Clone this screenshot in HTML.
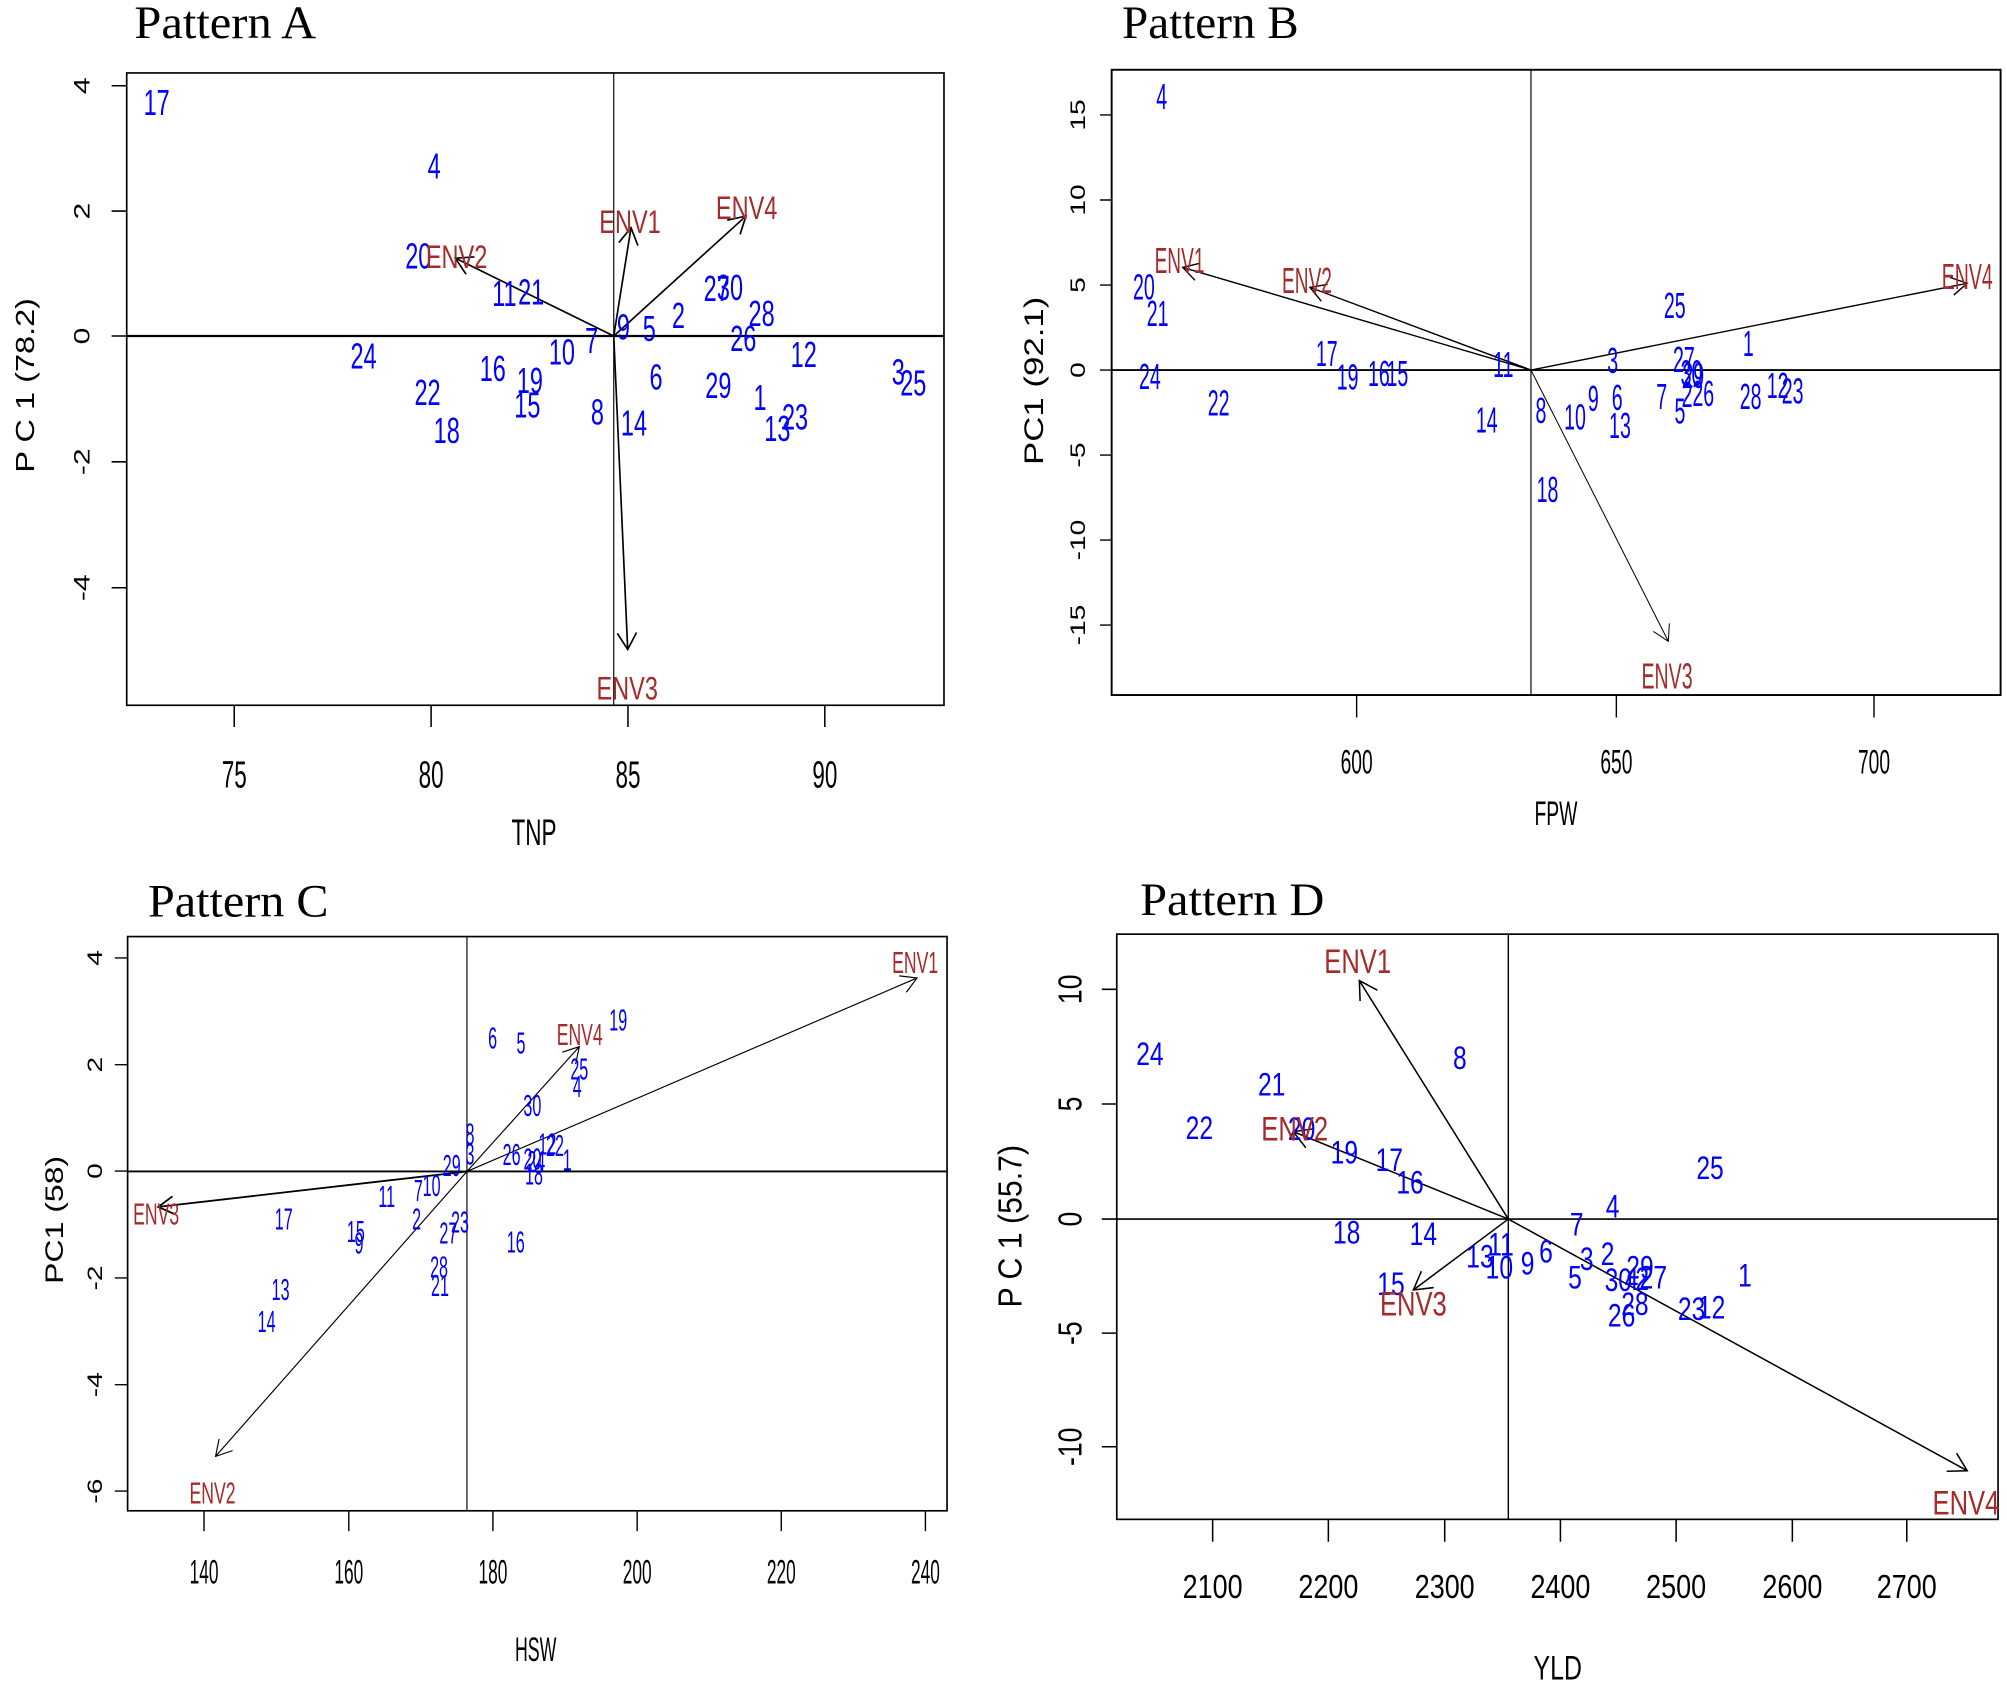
<!DOCTYPE html>
<html><head><meta charset="utf-8"><style>
html,body{margin:0;padding:0;background:#fff;}
svg{display:block;}
text{font-family:"Liberation Sans",Arial,sans-serif;text-anchor:middle;}
.t{font-family:"Liberation Serif","Times New Roman",serif;text-anchor:start;font-size:36px;fill:#000;}
.b{fill:#0000ff;}
.r{fill:#a52a2a;}
.k{fill:#000;}
.ln{fill:none;stroke:#000;}
</style></head><body>
<svg width="2007" height="1688" viewBox="0 0 1568 1318.75" preserveAspectRatio="none" xmlns="http://www.w3.org/2000/svg">
<rect x="0" y="0" width="1568" height="1318.75" fill="#fff"/>

<!-- ================= PANEL A ================= -->
<text class="t" x="105" y="29.7" textLength="142" lengthAdjust="spacingAndGlyphs">Pattern A</text>
<rect x="99" y="57" width="638.5" height="494" class="ln" stroke-width="1.3"/>
<line x1="99" y1="262.5" x2="737.5" y2="262.5" class="ln" stroke-width="1.7"/>
<line x1="479.5" y1="57" x2="479.5" y2="551" class="ln" stroke-width="0.9"/>
<path class="ln" stroke-width="1.2" d="M183 551V568M336.8 551V568M490.6 551V568M644.4 551V568M87.2 66.96H99M87.2 164.9H99M87.2 262.5H99M87.2 360.8H99M87.2 459.2H99"/>
<g class="k" font-size="30">
<text transform="translate(183,615.1) scale(.585,1)">75</text>
<text transform="translate(336.8,615.1) scale(.585,1)">80</text>
<text transform="translate(490.6,615.1) scale(.585,1)">85</text>
<text transform="translate(644.4,615.1) scale(.585,1)">90</text>
</g>
<text class="k" font-size="29" transform="translate(417.2,660) scale(.607,1)">TNP</text>
<g class="k" font-size="23.5">
<text transform="translate(63.8,66.96) rotate(-90) scale(1,.74)" y="8.4">4</text>
<text transform="translate(63.8,164.9) rotate(-90) scale(1,.74)" y="8.4">2</text>
<text transform="translate(63.8,262.5) rotate(-90) scale(1,.74)" y="8.4">0</text>
<text transform="translate(63.8,360.8) rotate(-90) scale(1,.74)" y="8.4">-2</text>
<text transform="translate(63.8,459.2) rotate(-90) scale(1,.74)" y="8.4">-4</text>
</g>
<text class="k" font-size="25.4" transform="translate(19.5,301) rotate(-90) scale(1,.79)" y="9.1">P C 1 (78.2)</text>
<path class="ln" stroke-width="1.3" d="M479.5 262.5L493 177.9M483.5 189.5L493 177.9L498.4 191.9M479.5 262.5L582.8 168.8M568.1 172L582.8 168.8L578.2 183.1M479.5 262.5L355.7 201.7M364.1 214.2L355.7 201.7L370.7 200.7M479.5 262.5L490.4 507.4M497.3 494.1L490.4 507.4L482.3 494.8"/>
<g class="b" font-size="28">
<text transform="translate(122.4,90) scale(.655,1)">17</text>
<text transform="translate(339.2,139.5) scale(.655,1)">4</text>
<text transform="translate(326.8,209.6) scale(.655,1)">20</text>
<text transform="translate(394,239) scale(.655,1)">11</text>
<text transform="translate(415,238) scale(.655,1)">21</text>
<text transform="translate(487,265.2) scale(.655,1)">9</text>
<text transform="translate(507.3,266.5) scale(.655,1)">5</text>
<text transform="translate(530,256.1) scale(.655,1)">2</text>
<text transform="translate(559.9,235.3) scale(.655,1)">27</text>
<text transform="translate(570.3,234.5) scale(.655,1)">30</text>
<text transform="translate(595,254.8) scale(.655,1)">28</text>
<text transform="translate(580.7,274.3) scale(.655,1)">26</text>
<text transform="translate(627.9,286.8) scale(.655,1)">12</text>
<text transform="translate(701.8,300.4) scale(.655,1)">3</text>
<text transform="translate(713.5,309) scale(.655,1)">25</text>
<text transform="translate(284,288) scale(.655,1)">24</text>
<text transform="translate(385,297.5) scale(.655,1)">16</text>
<text transform="translate(414,307) scale(.655,1)">19</text>
<text transform="translate(412,326) scale(.655,1)">15</text>
<text transform="translate(439,284.7) scale(.655,1)">10</text>
<text transform="translate(462.2,275.6) scale(.655,1)">7</text>
<text transform="translate(334,316.6) scale(.655,1)">22</text>
<text transform="translate(349,346) scale(.655,1)">18</text>
<text transform="translate(466.7,331.6) scale(.655,1)">8</text>
<text transform="translate(495.3,340.2) scale(.655,1)">14</text>
<text transform="translate(512.5,304.3) scale(.655,1)">6</text>
<text transform="translate(561.2,310.8) scale(.655,1)">29</text>
<text transform="translate(593.75,320.4) scale(.655,1)">1</text>
<text transform="translate(607.3,344.6) scale(.655,1)">13</text>
<text transform="translate(621.1,335.5) scale(.655,1)">23</text>
</g>
<g class="r" font-size="25">
<text transform="translate(492.2,182.2) scale(.735,1)">ENV1</text>
<text transform="translate(583.3,171) scale(.735,1)">ENV4</text>
<text transform="translate(356.7,209.4) scale(.735,1)">ENV2</text>
<text transform="translate(490,546.5) scale(.735,1)">ENV3</text>
</g>

<!-- ================= PANEL B ================= -->
<text class="t" x="876.6" y="29.7" textLength="138" lengthAdjust="spacingAndGlyphs">Pattern B</text>
<rect x="868.5" y="54.5" width="694.5" height="488.5" class="ln" stroke-width="1.5"/>
<line x1="868.5" y1="289.1" x2="1563" y2="289.1" class="ln" stroke-width="1.5"/>
<line x1="1196.1" y1="54.5" x2="1196.1" y2="543" class="ln" stroke-width="0.9"/>
<path class="ln" stroke-width="1.1" d="M1059.9 543V560.5M1262.8 543V560.5M1464.1 543V560.5M859.4 89.8H868.5M859.4 156.25H868.5M859.4 222.7H868.5M859.4 289.1H868.5M859.4 355.5H868.5M859.4 421.9H868.5M859.4 488.3H868.5"/>
<g class="k" font-size="27">
<text transform="translate(1059.9,604.2) scale(.556,1)">600</text>
<text transform="translate(1262.8,604.2) scale(.556,1)">650</text>
<text transform="translate(1464.1,604.2) scale(.556,1)">700</text>
</g>
<text class="k" font-size="27" transform="translate(1215.6,644.5) scale(.56,1)">FPW</text>
<g class="k" font-size="22">
<text transform="translate(841.7,89.8) rotate(-90) scale(1,.74)" y="7.9">15</text>
<text transform="translate(841.7,156.25) rotate(-90) scale(1,.74)" y="7.9">10</text>
<text transform="translate(841.7,222.7) rotate(-90) scale(1,.74)" y="7.9">5</text>
<text transform="translate(841.7,289.1) rotate(-90) scale(1,.74)" y="7.9">0</text>
<text transform="translate(841.7,355.5) rotate(-90) scale(1,.74)" y="7.9">-5</text>
<text transform="translate(841.7,421.9) rotate(-90) scale(1,.74)" y="7.9">-10</text>
<text transform="translate(841.7,488.3) rotate(-90) scale(1,.74)" y="7.9">-15</text>
</g>
<text class="k" font-size="27.2" transform="translate(807.3,297.5) rotate(-90) scale(1,.77)" y="9.7">PC1 (92.1)</text>
<path class="ln" stroke-width="1.1" d="M1196.1 289.1L924 208.9M933.6 219L924 208.9L937.6 205.6M1196.1 289.1L1023.4 224.5M1032.3 235.3L1023.4 224.5L1037.2 222.2M1196.1 289.1L1536.9 221.3M1523.6 216.8L1536.9 221.3L1526.4 230.5"/>
<path class="ln" stroke-width="0.8" d="M1196.1 289.1L1303.4 501M1304.2 487L1303.4 501L1291.7 493.3"/>
<g class="b" font-size="28">
<text transform="translate(907.6,85) scale(.546,1)">4</text>
<text transform="translate(893.7,234) scale(.546,1)">20</text>
<text transform="translate(904.4,254.8) scale(.546,1)">21</text>
<text transform="translate(898.4,303.75) scale(.546,1)">24</text>
<text transform="translate(952.1,324.6) scale(.546,1)">22</text>
<text transform="translate(1036.5,286) scale(.546,1)">17</text>
<text transform="translate(1052.9,304.3) scale(.546,1)">19</text>
<text transform="translate(1077.3,301.7) scale(.546,1)">16</text>
<text transform="translate(1091.7,301.7) scale(.546,1)">15</text>
<text transform="translate(1174.5,294.6) scale(.546,1)">11</text>
<text transform="translate(1161.5,338) scale(.546,1)">14</text>
<text transform="translate(1203.9,330.3) scale(.546,1)">8</text>
<text transform="translate(1230.5,335.5) scale(.546,1)">10</text>
<text transform="translate(1244.8,321.2) scale(.546,1)">9</text>
<text transform="translate(1263.5,320.4) scale(.546,1)">6</text>
<text transform="translate(1265.6,342) scale(.546,1)">13</text>
<text transform="translate(1259.9,291.25) scale(.546,1)">3</text>
<text transform="translate(1298.2,319.4) scale(.546,1)">7</text>
<text transform="translate(1312.5,330.8) scale(.546,1)">5</text>
<text transform="translate(1315.6,290.7) scale(.546,1)">27</text>
<text transform="translate(1322.9,303) scale(.546,1)">29</text>
<text transform="translate(1321.5,301) scale(.546,1)">30</text>
<text transform="translate(1318,318) scale(.546,1)">2</text>
<text transform="translate(1330.7,317.3) scale(.546,1)">26</text>
<text transform="translate(1365.9,278.2) scale(.546,1)">1</text>
<text transform="translate(1367.7,319.4) scale(.546,1)">28</text>
<text transform="translate(1388.8,310.8) scale(.546,1)">12</text>
<text transform="translate(1400.5,315.2) scale(.546,1)">23</text>
<text transform="translate(1308.4,248.6) scale(.546,1)">25</text>
<text transform="translate(1209,392) scale(.546,1)">18</text>
</g>
<g class="r" font-size="28">
<text transform="translate(921.5,213.1) scale(.533,1)">ENV1</text>
<text transform="translate(1021.1,228.75) scale(.533,1)">ENV2</text>
<text transform="translate(1536.9,225.7) scale(.545,1)">ENV4</text>
<text transform="translate(1302.4,537.8) scale(.545,1)">ENV3</text>
</g>

<!-- ================= PANEL C ================= -->
<text class="t" x="115.6" y="716" textLength="141" lengthAdjust="spacingAndGlyphs">Pattern C</text>
<rect x="99.7" y="731.7" width="640.2" height="448.6" class="ln" stroke-width="1.3"/>
<line x1="99.7" y1="915.2" x2="739.9" y2="915.2" class="ln" stroke-width="1.5"/>
<line x1="364.8" y1="731.7" x2="364.8" y2="1180.3" class="ln" stroke-width="0.9"/>
<path class="ln" stroke-width="1.1" d="M159.4 1180.3V1196.2M272.5 1180.3V1196.2M385.1 1180.3V1196.2M497.8 1180.3V1196.2M610.4 1180.3V1196.2M723 1180.3V1196.2M89.7 748.4H99.7M89.7 831.8H99.7M89.7 914.9H99.7M89.7 998.4H99.7M89.7 1081.8H99.7M89.7 1164.9H99.7"/>
<g class="k" font-size="27">
<text transform="translate(159.4,1237.2) scale(.5,1)">140</text>
<text transform="translate(272.5,1237.2) scale(.5,1)">160</text>
<text transform="translate(385.1,1237.2) scale(.5,1)">180</text>
<text transform="translate(497.8,1237.2) scale(.5,1)">200</text>
<text transform="translate(610.4,1237.2) scale(.5,1)">220</text>
<text transform="translate(723,1237.2) scale(.5,1)">240</text>
</g>
<text class="k" font-size="27" transform="translate(418.5,1297.7) scale(.514,1)">HSW</text>
<g class="k" font-size="22">
<text transform="translate(73.7,748.4) rotate(-90) scale(1,.74)" y="7.9">4</text>
<text transform="translate(73.7,831.8) rotate(-90) scale(1,.74)" y="7.9">2</text>
<text transform="translate(73.7,914.9) rotate(-90) scale(1,.74)" y="7.9">0</text>
<text transform="translate(73.7,998.4) rotate(-90) scale(1,.74)" y="7.9">-2</text>
<text transform="translate(73.7,1081.8) rotate(-90) scale(1,.74)" y="7.9">-4</text>
<text transform="translate(73.7,1164.9) rotate(-90) scale(1,.74)" y="7.9">-6</text>
</g>
<text class="k" font-size="25" transform="translate(42.4,953) rotate(-90) scale(1,.77)" y="9">PC1 (58)</text>
<path class="ln" stroke-width="0.9" d="M364.8 915.2L716.5 764M702.6 762.4L716.5 764L708.1 775.2M364.8 915.2L452.6 817.7M439.3 822L452.6 817.7L449.7 831.4M364.8 915.2L168.4 1137.8M181.7 1133.3L168.4 1137.8L171.2 1124.1"/>
<path class="ln" stroke-width="1.4" d="M364.8 915.2L123.6 942.9M136.4 948.5L123.6 942.9L134.8 934.6"/>
<g class="b" font-size="24">
<text transform="translate(483,805) scale(.525,1)">19</text>
<text transform="translate(384.9,819) scale(.525,1)">6</text>
<text transform="translate(407,823.2) scale(.525,1)">5</text>
<text transform="translate(452.6,843.2) scale(.525,1)">25</text>
<text transform="translate(451,857) scale(.525,1)">4</text>
<text transform="translate(415.9,871.9) scale(.525,1)">30</text>
<text transform="translate(367.2,894) scale(.525,1)">8</text>
<text transform="translate(367.2,909.6) scale(.525,1)">3</text>
<text transform="translate(399.7,910.2) scale(.525,1)">26</text>
<text transform="translate(416,913.6) scale(.525,1)">20</text>
<text transform="translate(419,915.6) scale(.525,1)">24</text>
<text transform="translate(427.6,901.8) scale(.525,1)">12</text>
<text transform="translate(433.6,903.1) scale(.525,1)">22</text>
<text transform="translate(443.2,914.3) scale(.525,1)">1</text>
<text transform="translate(417.2,925.3) scale(.525,1)">18</text>
<text transform="translate(352.9,918.8) scale(.525,1)">29</text>
<text transform="translate(326.8,938.3) scale(.525,1)">7</text>
<text transform="translate(337.2,934.4) scale(.525,1)">10</text>
<text transform="translate(302.1,943) scale(.525,1)">11</text>
<text transform="translate(221.7,960.6) scale(.525,1)">17</text>
<text transform="translate(325.5,960.4) scale(.525,1)">2</text>
<text transform="translate(359.4,963) scale(.525,1)">23</text>
<text transform="translate(350.3,971.6) scale(.525,1)">27</text>
<text transform="translate(278,970.2) scale(.525,1)">15</text>
<text transform="translate(280.5,979.4) scale(.525,1)">9</text>
<text transform="translate(402.9,978.6) scale(.525,1)">16</text>
<text transform="translate(343,998.2) scale(.525,1)">28</text>
<text transform="translate(343.75,1012.5) scale(.525,1)">21</text>
<text transform="translate(219.2,1015.6) scale(.525,1)">13</text>
<text transform="translate(208.3,1040.8) scale(.525,1)">14</text>
</g>
<g class="r" font-size="24">
<text transform="translate(715,760.3) scale(.574,1)">ENV1</text>
<text transform="translate(452.9,816.4) scale(.574,1)">ENV4</text>
<text transform="translate(122,956.5) scale(.574,1)">ENV3</text>
<text transform="translate(166,1174.5) scale(.574,1)">ENV2</text>
</g>

<!-- ================= PANEL D ================= -->
<text class="t" x="890.7" y="715" textLength="144" lengthAdjust="spacingAndGlyphs">Pattern D</text>
<rect x="872.5" y="729.8" width="688.5" height="457.2" class="ln" stroke-width="1.3"/>
<line x1="872.5" y1="952.4" x2="1561" y2="952.4" class="ln" stroke-width="1.3"/>
<line x1="1178.4" y1="729.8" x2="1178.4" y2="1187" class="ln" stroke-width="1.1"/>
<path class="ln" stroke-width="1.2" d="M947.4 1187V1204.5M1037.8 1187V1204.5M1128.7 1187V1204.5M1219.1 1187V1204.5M1309.5 1187V1204.5M1400.3 1187V1204.5M1489.7 1187V1204.5M860.8 772.9H872.5M860.8 862.5H872.5M860.8 952.4H872.5M860.8 1041.5H872.5M860.8 1130.3H872.5"/>
<g class="k" font-size="26">
<text transform="translate(947.4,1248.5) scale(.81,1)">2100</text>
<text transform="translate(1037.8,1248.5) scale(.81,1)">2200</text>
<text transform="translate(1128.7,1248.5) scale(.81,1)">2300</text>
<text transform="translate(1219.1,1248.5) scale(.81,1)">2400</text>
<text transform="translate(1309.5,1248.5) scale(.81,1)">2500</text>
<text transform="translate(1400.3,1248.5) scale(.81,1)">2600</text>
<text transform="translate(1489.7,1248.5) scale(.81,1)">2700</text>
</g>
<text class="k" font-size="27" transform="translate(1217,1312.3) scale(.72,1)">YLD</text>
<g class="k" font-size="26">
<text transform="translate(835.5,772.9) rotate(-90) scale(.8,1)" y="9.3">10</text>
<text transform="translate(835.5,862.5) rotate(-90) scale(.8,1)" y="9.3">5</text>
<text transform="translate(835.5,952.4) rotate(-90) scale(.8,1)" y="9.3">0</text>
<text transform="translate(835.5,1041.5) rotate(-90) scale(.8,1)" y="9.3">-5</text>
<text transform="translate(835.5,1130.3) rotate(-90) scale(.8,1)" y="9.3">-10</text>
</g>
<text class="k" font-size="26" transform="translate(788.8,958) rotate(-90) scale(.91,1)" y="9.3">P C 1 (55.7)</text>
<path class="ln" stroke-width="1.2" d="M1178.4 952.4L1062 766.1M1062.6 782.1L1062 766.1L1076.1 773.6M1178.4 952.4L1010.4 884.1M1020.2 896.7L1010.4 884.1L1026.2 881.9M1178.4 952.4L1104.2 1007.8M1120.1 1005.9L1104.2 1007.8L1110.5 993.1M1178.4 952.4L1536.9 1149M1528.6 1135.3L1536.9 1149L1520.9 1149.4"/>
<g class="b" font-size="25.5">
<text transform="translate(1140.5,835.1) scale(.755,1)">8</text>
<text transform="translate(898.4,832) scale(.755,1)">24</text>
<text transform="translate(993.5,856) scale(.755,1)">21</text>
<text transform="translate(937,889.8) scale(.755,1)">22</text>
<text transform="translate(1016.9,890.6) scale(.755,1)">20</text>
<text transform="translate(1050.3,908.8) scale(.755,1)">19</text>
<text transform="translate(1085.4,914.8) scale(.755,1)">17</text>
<text transform="translate(1101.6,932.3) scale(.755,1)">16</text>
<text transform="translate(1336,921.1) scale(.755,1)">25</text>
<text transform="translate(1259.9,951.3) scale(.755,1)">4</text>
<text transform="translate(1231.8,965.35) scale(.755,1)">7</text>
<text transform="translate(1052.1,971.3) scale(.755,1)">18</text>
<text transform="translate(1112,972.6) scale(.755,1)">14</text>
<text transform="translate(1172.7,981) scale(.755,1)">11</text>
<text transform="translate(1156.25,990.35) scale(.755,1)">13</text>
<text transform="translate(1171.4,998.7) scale(.755,1)">10</text>
<text transform="translate(1193.5,995.6) scale(.755,1)">9</text>
<text transform="translate(1207.8,986.2) scale(.755,1)">6</text>
<text transform="translate(1239.6,992.2) scale(.755,1)">3</text>
<text transform="translate(1256,988.3) scale(.755,1)">2</text>
<text transform="translate(1230.5,1006.5) scale(.755,1)">5</text>
<text transform="translate(1264.3,1008.6) scale(.755,1)">30</text>
<text transform="translate(1274.7,1007.8) scale(.755,1)">4</text>
<text transform="translate(1283,1007.8) scale(.755,1)">2</text>
<text transform="translate(1281.25,998.7) scale(.755,1)">29</text>
<text transform="translate(1291.7,1006.5) scale(.755,1)">27</text>
<text transform="translate(1277.3,1027.3) scale(.755,1)">28</text>
<text transform="translate(1266.9,1036.4) scale(.755,1)">26</text>
<text transform="translate(1321.6,1031.2) scale(.755,1)">23</text>
<text transform="translate(1337.2,1029.9) scale(.755,1)">12</text>
<text transform="translate(1363.3,1005.2) scale(.755,1)">1</text>
<text transform="translate(1086.7,1011.7) scale(.755,1)">15</text>
</g>
<g class="r" font-size="27">
<text transform="translate(1060.7,760.2) scale(.74,1)">ENV1</text>
<text transform="translate(1011.5,891.2) scale(.74,1)">ENV2</text>
<text transform="translate(1104.2,1027.9) scale(.74,1)">ENV3</text>
<text transform="translate(1535.9,1183.2) scale(.74,1)">ENV4</text>
</g>
</svg>
</body></html>
